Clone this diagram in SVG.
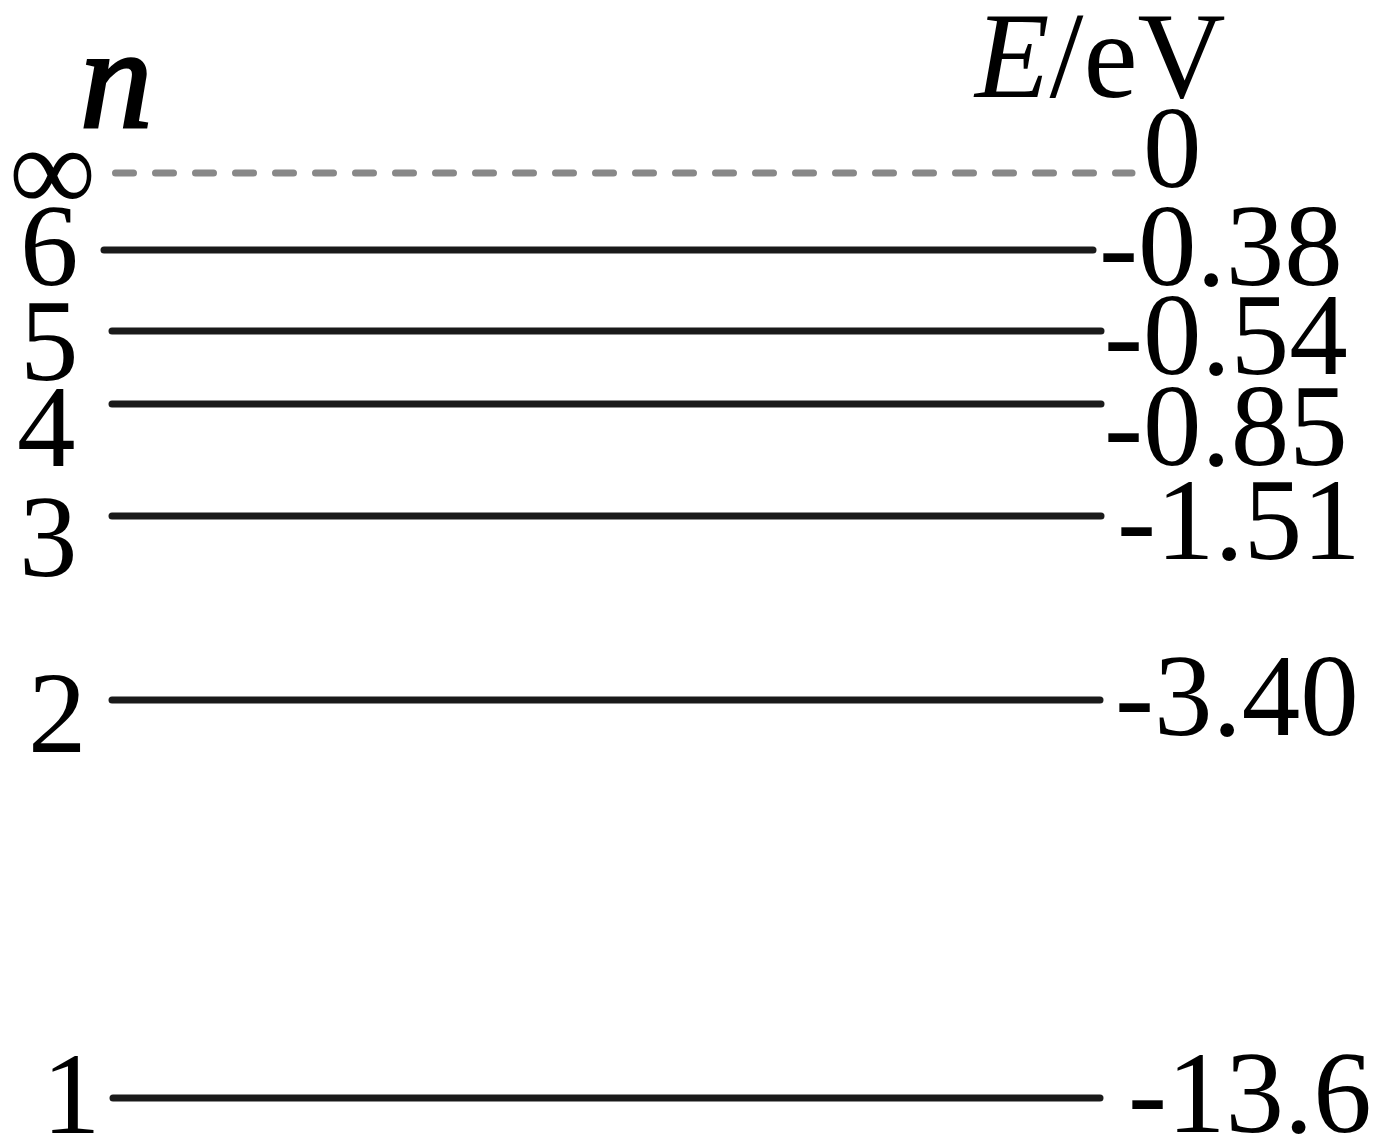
<svg xmlns="http://www.w3.org/2000/svg" width="1386" height="1146" viewBox="0 0 1386 1146">
<style>
.t{font-family:"Liberation Serif","Times New Roman",serif;font-size:117px;fill:#000}
.i{font-style:italic}
.lv{stroke:#1a1a1a;stroke-width:7;stroke-linecap:round;fill:none}
.inf{stroke:#888;stroke-width:7;stroke-linecap:round;stroke-dasharray:18 22;fill:none}
</style>
<rect width="1386" height="1146" fill="#fff"/>
<g id="axis-labels">
<text class="t i" x="80" y="127" style="font-size:145px;stroke:#000;stroke-width:3">n</text>
<text class="t" x="975" y="97" style="font-size:122px"><tspan class="i">E</tspan>/eV</text>
</g>
<g id="connectors">
<line id="level-inf" class="inf" x1="115.5" y1="173" x2="1132" y2="173"/>
<line id="level-6" class="lv" x1="104" y1="250" x2="1093" y2="250"/>
<line id="level-5" class="lv" x1="112" y1="331" x2="1101" y2="331"/>
<line id="level-4" class="lv" x1="112" y1="404" x2="1101" y2="404"/>
<line id="level-3" class="lv" x1="112" y1="516" x2="1101" y2="516"/>
<line id="level-2" class="lv" x1="112" y1="700" x2="1100" y2="700"/>
<line id="level-1" class="lv" x1="113" y1="1098" x2="1100" y2="1098"/>
</g>
<g id="n-inf"><text class="t" x="9" y="211" style="font-size:122px">∞</text><text class="t" x="1143" y="187">0</text></g>
<g id="n-6"><text class="t" x="20" y="285">6</text><text class="t" x="1099" y="285">-0.38</text></g>
<g id="n-5"><text class="t" x="20" y="380">5</text><text class="t" x="1104" y="374">-0.54</text></g>
<g id="n-4"><text class="t" x="17" y="466">4</text><text class="t" x="1104" y="465">-0.85</text></g>
<g id="n-3"><text class="t" x="19" y="576">3</text><text class="t" x="1117" y="559">-1.51</text></g>
<g id="n-2"><text class="t" x="28" y="752">2</text><text class="t" x="1115" y="735">-3.40</text></g>
<g id="n-1"><text class="t" x="42" y="1133">1</text><text class="t" x="1128" y="1132">-13.6</text></g>
</svg>
